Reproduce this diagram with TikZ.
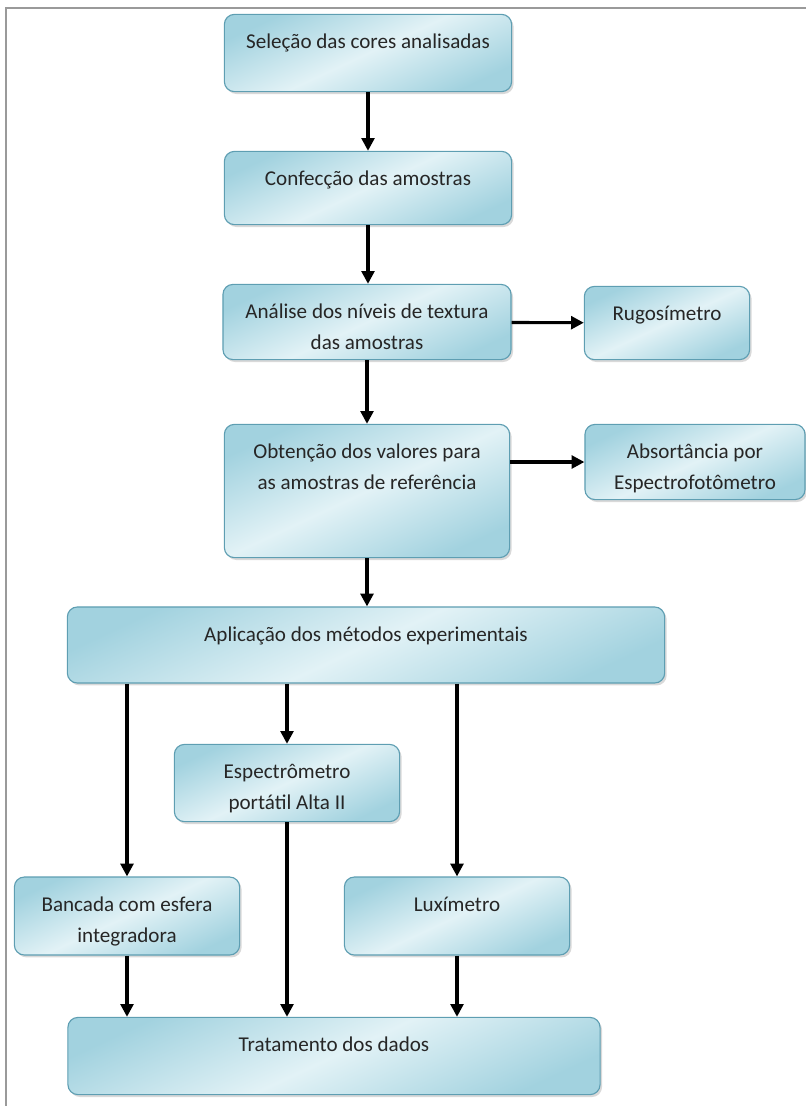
\documentclass[tikz,border=0pt]{standalone}
\usepackage{fontspec}
\setmainfont{Carlito}
\usetikzlibrary{arrows.meta,shapes,shadows}

\definecolor{boxline}{HTML}{5E9EB2}
\definecolor{boxdark}{HTML}{A2D2DF}
\definecolor{boxlight}{HTML}{E2F2F6}
\definecolor{frameline}{HTML}{9A9A9A}

\begin{document}
\begin{tikzpicture}[x=0.025cm,y=-0.025cm,>={Triangle[length=3.2mm,width=3.2mm]},auto]
  \tikzstyle{stepbox}=[rectangle,rounded corners=2.5mm,draw=boxline,thick,
    top color=boxdark,bottom color=boxdark,middle color=boxlight,shading angle=25,
    drop shadow={opacity=0.3,shadow xshift=0.5mm,shadow yshift=-0.6mm}]
  \tikzstyle{boxtext}=[anchor=north,yshift=-0.5cm,inner sep=0pt,align=center,
    text=black!85,font=\fontsize{15}{22}\selectfont]
  \tikzstyle{flow}=[->,line width=2.2pt]

  \useasboundingbox (0,0) rectangle (806,1106);
  \draw [frameline,line width=1.2pt] (806,8) -- (6,8) -- (6,1106);

    \node [stepbox,minimum width=7.18cm,minimum height=1.93cm] (sel) at (368,53)
        [label={[boxtext]north:Seleção das cores analisadas}] {};
    \node [stepbox,minimum width=7.18cm,minimum height=1.83cm] (conf) at (368,188)
        [label={[boxtext]north:Confecção das amostras}] {};
    \node [stepbox,minimum width=7.2cm,minimum height=1.88cm] (anal) at (367,322)
        [label={[boxtext]north:{Análise dos níveis de textura\\das amostras}}] {};
    \node [stepbox,minimum width=4.13cm,minimum height=1.83cm] (rugo) at (667,323)
        [label={[boxtext]north:Rugosímetro}] {};
    \node [stepbox,minimum width=7.13cm,minimum height=3.33cm] (obt) at (367,491)
        [label={[boxtext]north:{Obtenção dos valores para\\as amostras de referência}}] {};
    \node [stepbox,minimum width=5.5cm,minimum height=1.88cm] (abs) at (695,462)
        [label={[boxtext]north:{Absortância por\\Espectrofotômetro}}] {};
    \node [stepbox,minimum width=14.93cm,minimum height=1.9cm] (apl) at (366,645)
        [label={[boxtext]north:Aplicação dos métodos experimentais}] {};
    \node [stepbox,minimum width=5.63cm,minimum height=1.93cm] (esp) at (287,783)
        [label={[boxtext]north:{Espectrômetro\\portátil Alta II}}] {};
    \node [stepbox,minimum width=5.63cm,minimum height=1.95cm] (banc) at (127,916)
        [label={[boxtext]north:{Bancada com esfera\\integradora}}] {};
    \node [stepbox,minimum width=5.63cm,minimum height=1.95cm] (lux) at (457,916)
        [label={[boxtext]north:Luxímetro}] {};
    \node [stepbox,minimum width=13.3cm,minimum height=1.93cm] (trat) at (334,1056)
        [label={[boxtext]north:Tratamento dos dados}] {};

    % main line
    \draw [flow] (sel.south) -- (sel.south |- conf.north);
    \draw [flow] (conf.south) -- (conf.south |- anal.north);
    \draw [flow] (anal) -- (rugo);
    \draw [flow] (anal.south) -- (anal.south |- obt.north);
    \draw [flow] (obt.east |- abs.west) -- (abs.west);
    \draw [flow] (obt.south) -- (obt.south |- apl.north);
    % methods
    \draw [flow] (apl.south -| banc.north) -- (banc.north);
    \draw [flow] (apl.south -| esp.north) -- (esp.north);
    \draw [flow] (apl.south -| lux.north) -- (lux.north);
    \draw [flow] (banc.south) -- (banc.south |- trat.north);
    \draw [flow] (esp.south) -- (esp.south |- trat.north);
    \draw [flow] (lux.south) -- (lux.south |- trat.north); %P1
\end{tikzpicture}
\end{document}
